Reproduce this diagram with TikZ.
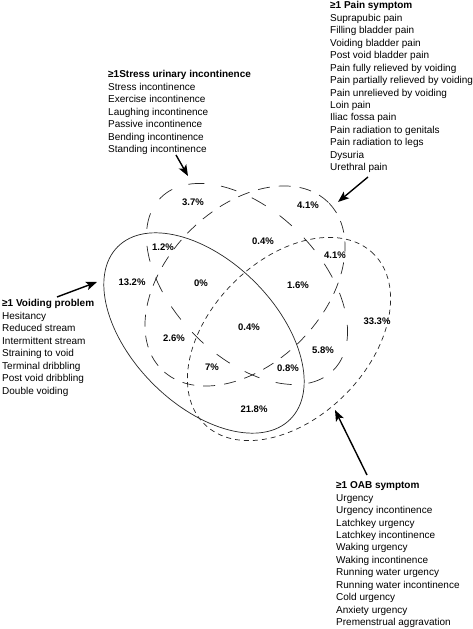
\documentclass[tikz,border=0pt]{standalone}
\usepackage{fontspec}
\setmainfont{Liberation Sans}
\usetikzlibrary{arrows.meta}
\tikzset{
  setline/.style={draw=black!85, line width=0.7pt},
  longdash/.style={setline, dash pattern=on 16pt off 17pt},
  meddash/.style={setline, dash pattern=on 12pt off 9pt},
  shortdash/.style={setline, dash pattern=on 5pt off 4pt},
  listbox/.style={anchor=north west, inner sep=0pt, align=left, font=\fontsize{10}{12.45}\selectfont},
  pct/.style={inner sep=0pt, font=\fontsize{9.5}{11}\selectfont\bfseries},
  pointer/.style={line width=1.4pt, -{Stealth[length=11pt,width=8.5pt,inset=2.5pt]}}
}
\begin{document}
\begin{tikzpicture}[x=1pt,y=1pt]
\useasboundingbox (0,0) rectangle (472,629);
% ellipses
\draw[longdash, rotate around={-45:(247,345)}] (247,345) ellipse [x radius=122, y radius=73];
\draw[meddash, rotate around={45:(245,343)}] (245,343) ellipse [x radius=118, y radius=78];
\draw[setline, rotate around={-45:(204,296)}] (204,296) ellipse [x radius=122, y radius=72];
\draw[shortdash, rotate around={45:(289,290)}] (289,290) ellipse [x radius=120, y radius=79];
% text blocks
\node[listbox] (stress) at (108,558.5) {\textbf{≥1Stress urinary incontinence}\\Stress incontinence\\Exercise incontinence\\Laughing incontinence\\Passive incontinence\\Bending incontinence\\Standing incontinence};
\node[listbox] (pain) at (330,627.5) {\textbf{≥1 Pain symptom}\\Suprapubic pain\\Filling bladder pain\\Voiding bladder pain\\Post void bladder pain\\Pain fully relieved by voiding\\Pain partially relieved by voiding\\Pain unrelieved by voiding\\Loin pain\\Iliac fossa pain\\Pain radiation to genitals\\Pain radiation to legs\\Dysuria\\Urethral pain};
\node[listbox] (voiding) at (2,329.5) {\textbf{≥1 Voiding problem}\\Hesitancy\\Reduced stream\\Intermittent stream\\Straining to void\\Terminal dribbling\\Post void dribbling\\Double voiding};
\node[listbox] (oab) at (336,147.5) {\textbf{≥1 OAB symptom}\\Urgency\\Urgency incontinence\\Latchkey urgency\\Latchkey incontinence\\Waking urgency\\Waking incontinence\\Running water urgency\\Running water incontinence\\Cold urgency\\Anxiety urgency\\Premenstrual aggravation};
% arrows
\coordinate (sT) at (176,474); \coordinate (sH) at (188,453);
\coordinate (pT) at (368,452); \coordinate (pH) at (338,427);
\coordinate (vT) at (57,332);  \coordinate (vH) at (97,347);
\coordinate (oT) at (367,154); \coordinate (oH) at (335,219);
\draw[pointer] (sT) -- (sH);
\draw[pointer] (pT) -- (pH);
\draw[pointer] (vT) -- (vH);
\draw[pointer] (oT) -- (oH);
% percentages
\node[pct] (p1) at (193,427) {3.7\%};
\node[pct] (p2) at (308,424) {4.1\%};
\node[pct] (p3) at (163,382) {1.2\%};
\node[pct] (p4) at (263,388) {0.4\%};
\node[pct] (p5) at (335,374) {4.1\%};
\node[pct] (p6) at (132,347) {13.2\%};
\node[pct] (p7) at (201,346) {0\%};
\node[pct] (p8) at (298,344) {1.6\%};
\node[pct] (p9) at (249,302) {0.4\%};
\node[pct] (p10) at (377,308) {33.3\%};
\node[pct] (p11) at (174,291) {2.6\%};
\node[pct] (p12) at (323,279) {5.8\%};
\node[pct] (p13) at (212,262) {7\%};
\node[pct] (p14) at (288,261) {0.8\%};
\node[pct] (p15) at (254,220) {21.8\%};
\end{tikzpicture}
\end{document}
